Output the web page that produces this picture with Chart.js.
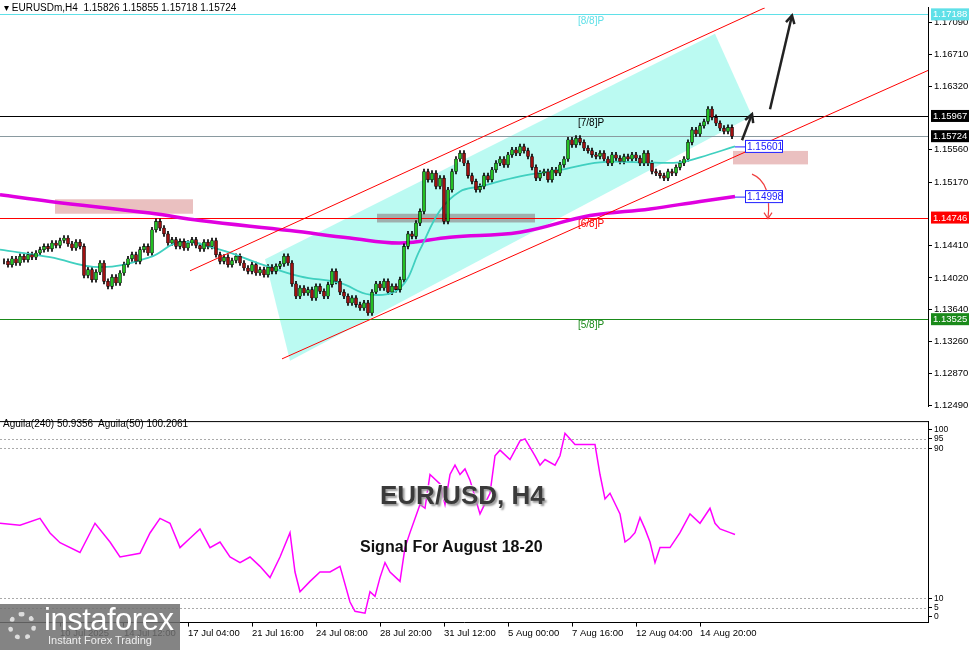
<!DOCTYPE html>
<html><head><meta charset="utf-8">
<script src="https://cdn.jsdelivr.net/npm/chart.js@4"></script>
<style>
body{margin:0;background:#fff;width:976px;height:650px;overflow:hidden;position:relative;font-family:"Liberation Sans",Arial,sans-serif}
#c1{position:absolute;left:0;top:0}
#c2{position:absolute;left:0;top:414px}
.t{position:absolute;white-space:nowrap}
</style></head><body>
<canvas id="c1" width="976" height="414"></canvas>
<canvas id="c2" width="976" height="236"></canvas>
<div class="t" style="left:4px;top:2px;font-size:10px;color:#000">&#9662; EURUSDm,H4&nbsp; 1.15826 1.15855 1.15718 1.15724</div>
<div class="t" style="left:3px;top:418px;font-size:10px;color:#000">Aguila(240) 50.9356&nbsp; Aguila(50) 100.2061</div>
<div class="t" style="left:380px;top:480px;font-size:26px;font-weight:bold;color:#3a3a3a;text-shadow:2px 2px 2px #999, -1px -1px 0 #fff">EUR/USD, H4</div>
<div class="t" style="left:360px;top:538px;font-size:16px;font-weight:bold;color:#111">Signal For August 18-20</div>
<div class="t" style="left:0;top:604px;width:180px;height:46px;background:rgba(110,110,110,0.85)"></div>
<div class="t" style="left:44px;top:602px;font-size:31px;color:#fff;letter-spacing:-0.5px">instaforex</div>
<div class="t" style="left:48px;top:634px;font-size:11px;color:#eee">Instant Forex Trading</div>
<div class="t" style="left:8px;top:612px;width:28px;height:28px;border-radius:50%;border:5px dotted #ddd;box-sizing:border-box"></div>
<script>
// ---- data ----
const closes=[1.1422,1.1418,1.1425,1.1420,1.1428,1.1424,1.1430,1.1427,1.1432,1.1436,
1.1440,1.1437,1.1444,1.1441,1.1447,1.1450,1.1443,1.1438,1.1445,1.1440,
1.1405,1.1412,1.1400,1.1409,1.1420,1.1398,1.1392,1.1403,1.1396,1.1408,
1.1418,1.1425,1.1430,1.1422,1.1436,1.1440,1.1432,1.1460,1.1470,1.1462,
1.1455,1.1444,1.1448,1.1440,1.1446,1.1438,1.1444,1.1448,1.1441,1.1437,
1.1445,1.1440,1.1447,1.1430,1.1422,1.1427,1.1418,1.1423,1.1428,1.1420,
1.1414,1.1410,1.1418,1.1408,1.1412,1.1406,1.1415,1.1410,1.1416,1.1419,
1.1428,1.1420,1.1395,1.1380,1.1390,1.1384,1.1388,1.1378,1.1392,1.1386,
1.1380,1.1394,1.1410,1.1398,1.1385,1.1380,1.1372,1.1378,1.1370,1.1366,
1.1372,1.1360,1.1385,1.1395,1.1390,1.1398,1.1385,1.1392,1.1388,1.1400,
1.1440,1.1455,1.1452,1.1468,1.1482,1.1530,1.1520,1.1528,1.1512,1.1522,
1.1470,1.1508,1.1530,1.1545,1.1552,1.1540,1.1525,1.1518,1.1508,1.1512,
1.1525,1.1520,1.1532,1.1540,1.1545,1.1538,1.1550,1.1556,1.1552,1.1560,
1.1555,1.1548,1.1535,1.1522,1.1528,1.1530,1.1520,1.1532,1.1528,1.1538,
1.1545,1.1568,1.1562,1.1570,1.1565,1.1558,1.1555,1.1550,1.1548,1.1552,
1.1545,1.1540,1.1550,1.1546,1.1542,1.1548,1.1545,1.1550,1.1546,1.1540,
1.1552,1.1540,1.1530,1.1528,1.1525,1.1522,1.1530,1.1528,1.1535,1.1540,
1.1545,1.1565,1.1580,1.1575,1.1585,1.1590,1.1605,1.1595,1.1588,1.1582,
1.1578,1.1583,1.15724];
const wick=0.0003;
const maFastIdx=[-1,11.5,24,36.5,44,54,64,74,84,91.5,99,104,109,114,119,129,139,149,159,169,174,182.75];
const maFastVal=[1.1436,1.1427,1.1415,1.1427,1.1445,1.1436,1.1419,1.1404,1.1396,1.1382,1.1390,1.1436,1.1483,1.1506,1.1512,1.1524,1.1532,1.1541,1.1541,1.1541,1.1547,1.15601];
const maSlowIdx=[-1,11.5,36.5,49,71.5,86.5,99,111.5,129,146.5,161.5,174,182.75];
const maSlowVal=[1.1502,1.1494,1.1480,1.1471,1.1459,1.1450,1.1444,1.1451,1.1457,1.1477,1.1485,1.1494,1.14998];
const oscIdx=[-1,4,9,11.5,14,19,22.75,26.5,29,34,36.5,39,41.5,44,46.5,49,51.5,54,56.5,59,61.5,64,66.5,69,71.5,72.75,74,76.5,79,81.5,84,86.5,87.75,90.25,91.5,92.75,94,95.25,96.5,99,100.25,101.5,104,105.25,106.5,109,110.25,111.5,112.75,114,115.25,116.5,119,121.5,122.75,124,126.5,129,130.25,132.75,134,135.25,137.75,139,140.25,142.75,145.25,147.75,149,150.25,151.5,154,155.25,156.5,157.75,159,160.25,161.5,162.75,164,166.5,169,171.5,174,176.5,177.75,179,181.5,182.75];
const oscVal=[50,49,52.6,44.8,39.6,34.4,50,40,32,34,44.8,52.6,50,37,42,47,37,40,32,29,32,27,21,32,45,24,13.5,19,24,24,27,8,3,2,13.5,11,21,29,24,19,37,45,60,58,76,71,60,76,81,76,79,73,55,66,86,89,84,94,95,86,81,84,81,86,98,92,92,92,76,63,66,55,40,42,45,53,47,40,29,37,37,45,55,50,58,50,47,45,44];
const priceTicks=[1.17090,1.16710,1.16320,1.15560,1.15170,1.14410,1.14020,1.13640,1.13260,1.12870,1.12490];
const oscTicks=[0,5,10,90,95,100];
const timeTickIdx=[14,30,46,62,78,94,110,126,142,158,174];
const timeTickLbl=["10 Jul 2025","14 Jul 12:00","17 Jul 04:00","21 Jul 16:00","24 Jul 08:00","28 Jul 20:00","31 Jul 12:00","5 Aug 00:00","7 Aug 16:00","12 Aug 04:00","14 Aug 20:00"];
const levels=[{p:1.17188,c:'#5fe0e8',t:'[8/8]P',lp:1.17105},{p:1.15967,c:'#000',t:'[7/8]P',lp:1.15885},{p:1.15724,c:'#8a9aa0',t:null},{p:1.14746,c:'#f00',t:'[6/8]P',lp:1.14664},{p:1.13525,c:'#1a8a1a',t:'[5/8]P',lp:1.13455}];
const axisTags=[{p:1.17188,bg:'#5fe0e8',fg:'#fff'},{p:1.15967,bg:'#000',fg:'#fff'},{p:1.15724,bg:'#000',fg:'#fff'},{p:1.14746,bg:'#f00',fg:'#fff'},{p:1.13525,bg:'#1a8a1a',fg:'#fff'}];
const channelPoly=[[71.5,1.13025],[65.25,1.14245],[177.75,1.16954],[187,1.15966]];
const upperLine=[[46.5,1.14106],[190.25,1.17268]];
const lowerLine=[[69.5,1.13048],[235.25,1.16605]];
const zones=[{x0:12.75,x1:47.25,p0:1.14966,p1:1.14792,c:'rgba(220,150,150,0.6)'},{x0:93.25,x1:132.75,p0:1.14792,p1:1.14687,c:'rgba(150,150,150,0.75)'},{x0:182.25,x1:201,p0:1.15547,p1:1.15385,c:'rgba(220,150,150,0.6)'}];
const arrows=[{a:[184.5,1.15675],b:[187,1.15989],c:'#222'},{a:[191.5,1.16047],b:[197,1.17175],c:'#222'}];
const curveArrow={a:[187,1.15268],b:[191,1.14733],c:'#f04040'};
const maTags=[{i:182.75,p:1.15601,t:'1.15601'},{i:182.75,p:1.14998,t:'1.14998'}];

// ---- build ----
const opens=closes.map((c,i)=>i?closes[i-1]:c);
const bodies=closes.map((c,i)=>({x:i,y:[opens[i],c]}));
const wicks=closes.map((c,i)=>({x:i,y:[Math.min(opens[i],c)-wick,Math.max(opens[i],c)+wick]}));
const FONT='"Liberation Sans",Arial,sans-serif';
const xMin=-1,xMax=231;
function fixW(s){s.width=48;}

const annot={id:'annot',
beforeDatasetsDraw(ch){const x=ch.scales.x,y=ch.scales.y,g=ch.ctx,a=ch.chartArea;
 g.save();g.beginPath();g.rect(a.left,a.top,a.right-a.left,a.bottom-a.top);g.clip();
 g.fillStyle='rgba(120,245,230,0.5)';g.beginPath();
 channelPoly.forEach((p,k)=>{const px=x.getPixelForValue(p[0]),py=y.getPixelForValue(p[1]);k?g.lineTo(px,py):g.moveTo(px,py);});g.closePath();g.fill();
 zones.forEach(z=>{g.fillStyle=z.c;const X0=x.getPixelForValue(z.x0),X1=x.getPixelForValue(z.x1),Y0=y.getPixelForValue(z.p0),Y1=y.getPixelForValue(z.p1);g.fillRect(X0,Y0,X1-X0,Y1-Y0);});
 levels.forEach(l=>{g.strokeStyle=l.c;g.lineWidth=1;const py=Math.round(y.getPixelForValue(l.p))+0.5;g.beginPath();g.moveTo(a.left,py);g.lineTo(a.right,py);g.stroke();
  if(l.t){g.fillStyle=l.c;g.font='10px '+FONT;g.textBaseline='middle';g.fillText(l.t,x.getPixelForValue(143.5),y.getPixelForValue(l.lp));}});
 g.restore();},
afterDatasetsDraw(ch){const x=ch.scales.x,y=ch.scales.y,g=ch.ctx,a=ch.chartArea;
 g.save();g.beginPath();g.rect(a.left,a.top,a.right-a.left,a.bottom-a.top);g.clip();
 [upperLine,lowerLine].forEach(L=>{g.strokeStyle='#f00';g.lineWidth=1;g.beginPath();g.moveTo(x.getPixelForValue(L[0][0]),y.getPixelForValue(L[0][1]));g.lineTo(x.getPixelForValue(L[1][0]),y.getPixelForValue(L[1][1]));g.stroke();});
 arrows.forEach(r=>{const ax=x.getPixelForValue(r.a[0]),ay=y.getPixelForValue(r.a[1]),bx=x.getPixelForValue(r.b[0]),by=y.getPixelForValue(r.b[1]);
  g.strokeStyle=r.c;g.lineWidth=2.5;g.beginPath();g.moveTo(ax,ay);g.lineTo(bx,by);g.stroke();
  const an=Math.atan2(by-ay,bx-ax);g.beginPath();g.moveTo(bx-9*Math.cos(an-0.5),by-9*Math.sin(an-0.5));g.lineTo(bx,by);g.lineTo(bx-9*Math.cos(an+0.5),by-9*Math.sin(an+0.5));g.stroke();});
 {const r=curveArrow;const ax=x.getPixelForValue(r.a[0]),ay=y.getPixelForValue(r.a[1]),bx=x.getPixelForValue(r.b[0]),by=y.getPixelForValue(r.b[1]);
  g.strokeStyle=r.c;g.lineWidth=1.2;g.beginPath();g.moveTo(ax,ay);g.quadraticCurveTo(bx+4,ay+8,bx,by);g.stroke();
  g.beginPath();g.moveTo(bx-4,by-6);g.lineTo(bx,by);g.lineTo(bx+4,by-6);g.stroke();}
 g.restore();
 maTags.forEach(t=>{const px=x.getPixelForValue(t.i),py=y.getPixelForValue(t.p);g.strokeStyle='#2020ff';g.lineWidth=1;g.beginPath();g.moveTo(px,py+0.5);g.lineTo(px+10,py+0.5);g.stroke();
  g.fillStyle='#fff';g.fillRect(px+10,py-6.5,38,13);g.strokeRect(px+10.5,py-6,37,12);g.fillStyle='#2020ff';g.font='10px '+FONT;g.textBaseline='middle';g.fillText(t.t,px+12,py+0.5);});
 axisTags.forEach(t=>{const py=y.getPixelForValue(t.p);g.fillStyle=t.bg;g.fillRect(a.right+3,py-6,38,12);g.fillStyle=t.fg;g.font='9.5px '+FONT;g.textBaseline='middle';g.fillText(t.p.toFixed(5),a.right+5,py+0.5);});
}};

new Chart(document.getElementById('c1'),{
 type:'bar',
 data:{datasets:[
  {type:'line',data:maSlowIdx.map((v,i)=>({x:v,y:maSlowVal[i]})),borderColor:'#e000e0',borderWidth:3.5,pointRadius:0,tension:0.4,order:3},
  {type:'line',data:maFastIdx.map((v,i)=>({x:v,y:maFastVal[i]})),borderColor:'#40d0c0',borderWidth:1.8,pointRadius:0,tension:0.4,order:1},
  {data:wicks,backgroundColor:'#000',barThickness:1,order:2,grouped:false},
  {data:bodies,backgroundColor:closes.map((c,i)=>c>=opens[i]?'#22c022':'#a01010'),borderColor:'#000',borderWidth:0.6,borderSkipped:false,barThickness:3,order:0,grouped:false}
 ]},
 options:{responsive:false,animation:false,layout:{padding:0},
  plugins:{legend:{display:false},tooltip:{enabled:false}},
  scales:{
   x:{type:'linear',min:xMin,max:xMax,offset:false,display:false},
   y:{position:'right',min:1.12478,max:1.17268,afterFit:fixW,
    afterBuildTicks(s){s.ticks=priceTicks.map(v=>({value:v}));},
    ticks:{callback:v=>v.toFixed(5),font:{size:9.5,family:FONT},color:'#000',padding:2},
    grid:{drawOnChartArea:false,tickLength:4,color:'#000'},border:{color:'#000'}}
  }},
 plugins:[annot]
});

const osc2={id:'osc2',beforeDatasetsDraw(ch){const y=ch.scales.y,g=ch.ctx,a=ch.chartArea;g.save();g.setLineDash([2,2]);g.strokeStyle='#aaa';
 [5,10,90,95].forEach(v=>{const py=Math.round(y.getPixelForValue(v))+0.5;g.beginPath();g.moveTo(a.left,py);g.lineTo(a.right,py);g.stroke();});
 g.setLineDash([]);g.strokeStyle='#000';g.beginPath();g.moveTo(a.left,a.top+0.5);g.lineTo(a.right,a.top+0.5);g.stroke();g.restore();}};

new Chart(document.getElementById('c2'),{
 type:'line',
 data:{datasets:[{data:oscIdx.map((v,i)=>({x:v,y:oscVal[i]})),borderColor:'#ff00ff',borderWidth:1.5,pointRadius:0,tension:0}]},
 options:{responsive:false,animation:false,layout:{padding:{top:0,bottom:10}},
  plugins:{legend:{display:false},tooltip:{enabled:false}},
  scales:{
   x:{type:'linear',min:xMin,max:xMax,offset:false,
    afterBuildTicks(s){s.ticks=timeTickIdx.map(v=>({value:v}));},
    ticks:{callback:v=>timeTickLbl[timeTickIdx.indexOf(v)],align:'start',maxRotation:0,autoSkip:false,font:{size:9.5,family:FONT},color:'#000',padding:1},
    grid:{drawOnChartArea:false,tickLength:4,color:'#000'},border:{color:'#000'}},
   y:{position:'right',min:-3,max:104.5,afterFit:fixW,
    afterBuildTicks(s){s.ticks=oscTicks.map(v=>({value:v}));},
    ticks:{font:{size:8.5,family:FONT},color:'#000',padding:2},
    grid:{drawOnChartArea:false,tickLength:4,color:'#000'},border:{color:'#000'}}
  }},
 plugins:[osc2]
});
</script></body></html>
